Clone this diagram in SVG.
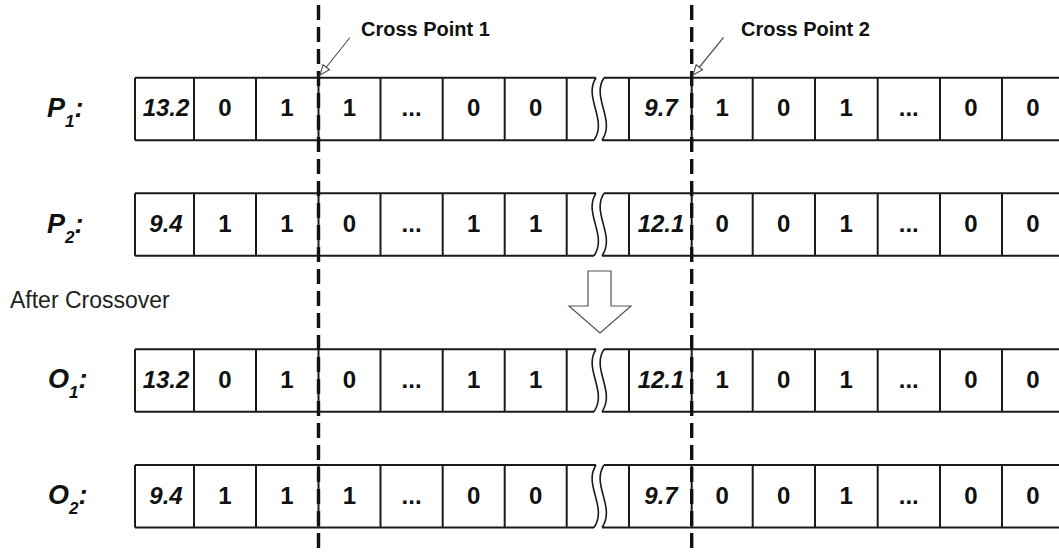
<svg xmlns="http://www.w3.org/2000/svg" xmlns:xlink="http://www.w3.org/1999/xlink" width="1059" height="555" viewBox="0 0 1059 555">
<style>
.grid{fill:none;stroke:#1a1a1a;stroke-width:2}
.brk{fill:none;stroke:#1a1a1a;stroke-width:1.6}
.v{font-family:"Liberation Sans",Arial,sans-serif;font-weight:bold;font-size:24px;fill:#111;text-anchor:middle}
.vi{font-style:italic}
.lbl{font-family:"Liberation Sans",Arial,sans-serif;font-weight:bold;font-style:italic;font-size:27px;fill:#111}
.sub{font-size:17px}
.cp{font-family:"Liberation Sans",Arial,sans-serif;font-weight:bold;font-size:20px;fill:#111}
.note{font-family:"Liberation Sans",Arial,sans-serif;font-size:23px;fill:#222}
.dash{stroke:#111;stroke-width:3.4;stroke-dasharray:15 7;fill:none}
.call{stroke:#555;stroke-width:1.2;fill:none}
.head{fill:#fff;stroke:#555;stroke-width:1.2}
.blk{fill:#fff;stroke:#555;stroke-width:1.2}
</style>
<defs>
<g id="frame">
<path class="grid" d="M135,0H596 M604,0H1070 M135,62.5H594 M602,62.5H1070 M135,0V62.5 M194,0V62.5 M256,0V62.5 M318.5,0V62.5 M380.5,0V62.5 M442.7,0V62.5 M504.7,0V62.5 M566.7,0V62.5 M629,0V62.5 M691.7,0V62.5 M752.7,0V62.5 M815,0V62.5 M877.7,0V62.5 M940,0V62.5 M1002,0V62.5"/>
<path class="brk" d="M596,0 C583,20 608,42 594,62.5 M604,0 C591,20 616,42 602,62.5"/>
</g>
<marker id="openhead" viewBox="0 0 12 10" refX="11" refY="5" markerWidth="12" markerHeight="10" markerUnits="userSpaceOnUse" orient="auto">
<path class="head" d="M1,1 L11,5 L1,9 Z"/>
</marker>
</defs>
<rect width="1059" height="555" fill="#fff"/>

<g id="row-p1" transform="translate(0,77.7)">
<use xlink:href="#frame"/>
<text class="lbl" x="47" y="39.3">P<tspan class="sub" dy="10">1</tspan><tspan dy="-10">:</tspan></text>
<text class="v vi" x="166" y="38.5">13.2</text>
<text class="v" x="225" y="38.5">0</text>
<text class="v" x="287" y="38.5">1</text>
<text class="v" x="349.5" y="38.5">1</text>
<text class="v" x="411.6" y="38.5">...</text>
<text class="v" x="473.7" y="38.5">0</text>
<text class="v" x="535.7" y="38.5">0</text>
<text class="v vi" x="661" y="38.5">9.7</text>
<text class="v" x="722.2" y="38.5">1</text>
<text class="v" x="783.8" y="38.5">0</text>
<text class="v" x="846.3" y="38.5">1</text>
<text class="v" x="908.8" y="38.5">...</text>
<text class="v" x="971" y="38.5">0</text>
<text class="v" x="1033" y="38.5">0</text>
</g>

<g id="row-p2" transform="translate(0,193.3)">
<use xlink:href="#frame"/>
<text class="lbl" x="47" y="39.3">P<tspan class="sub" dy="10">2</tspan><tspan dy="-10">:</tspan></text>
<text class="v vi" x="166" y="38.5">9.4</text>
<text class="v" x="225" y="38.5">1</text>
<text class="v" x="287" y="38.5">1</text>
<text class="v" x="349.5" y="38.5">0</text>
<text class="v" x="411.6" y="38.5">...</text>
<text class="v" x="473.7" y="38.5">1</text>
<text class="v" x="535.7" y="38.5">1</text>
<text class="v vi" x="661" y="38.5">12.1</text>
<text class="v" x="722.2" y="38.5">0</text>
<text class="v" x="783.8" y="38.5">0</text>
<text class="v" x="846.3" y="38.5">1</text>
<text class="v" x="908.8" y="38.5">...</text>
<text class="v" x="971" y="38.5">0</text>
<text class="v" x="1033" y="38.5">0</text>
</g>

<text id="after" class="note" x="10" y="308">After Crossover</text>

<g id="row-o1" transform="translate(0,349.2)">
<use xlink:href="#frame"/>
<text class="lbl" x="48" y="39.3">O<tspan class="sub" dy="10">1</tspan><tspan dy="-10">:</tspan></text>
<text class="v vi" x="166" y="38.5">13.2</text>
<text class="v" x="225" y="38.5">0</text>
<text class="v" x="287" y="38.5">1</text>
<text class="v" x="349.5" y="38.5">0</text>
<text class="v" x="411.6" y="38.5">...</text>
<text class="v" x="473.7" y="38.5">1</text>
<text class="v" x="535.7" y="38.5">1</text>
<text class="v vi" x="661" y="38.5">12.1</text>
<text class="v" x="722.2" y="38.5">1</text>
<text class="v" x="783.8" y="38.5">0</text>
<text class="v" x="846.3" y="38.5">1</text>
<text class="v" x="908.8" y="38.5">...</text>
<text class="v" x="971" y="38.5">0</text>
<text class="v" x="1033" y="38.5">0</text>
</g>

<g id="row-o2" transform="translate(0,465)">
<use xlink:href="#frame"/>
<text class="lbl" x="48" y="39.3">O<tspan class="sub" dy="10">2</tspan><tspan dy="-10">:</tspan></text>
<text class="v vi" x="166" y="38.5">9.4</text>
<text class="v" x="225" y="38.5">1</text>
<text class="v" x="287" y="38.5">1</text>
<text class="v" x="349.5" y="38.5">1</text>
<text class="v" x="411.6" y="38.5">...</text>
<text class="v" x="473.7" y="38.5">0</text>
<text class="v" x="535.7" y="38.5">0</text>
<text class="v vi" x="661" y="38.5">9.7</text>
<text class="v" x="722.2" y="38.5">0</text>
<text class="v" x="783.8" y="38.5">0</text>
<text class="v" x="846.3" y="38.5">1</text>
<text class="v" x="908.8" y="38.5">...</text>
<text class="v" x="971" y="38.5">0</text>
<text class="v" x="1033" y="38.5">0</text>
</g>

<g id="cross-labels">
<text class="cp" x="361" y="35.5">Cross Point 1</text>
<text class="cp" x="741" y="35.5">Cross Point 2</text>
</g>

<g id="connectors">
<line class="dash" x1="318.5" y1="5" x2="318.5" y2="555"/>
<line class="dash" x1="691.7" y1="5" x2="691.7" y2="555"/>
<line class="call" x1="350" y1="37.5" x2="320" y2="75" marker-end="url(#openhead)"/>
<line class="call" x1="723.5" y1="37.5" x2="693" y2="75" marker-end="url(#openhead)"/>
<polygon class="blk" points="588,271 611,271 611,306 631,306 600,333 569,306 588,306"/>
</g>
</svg>
